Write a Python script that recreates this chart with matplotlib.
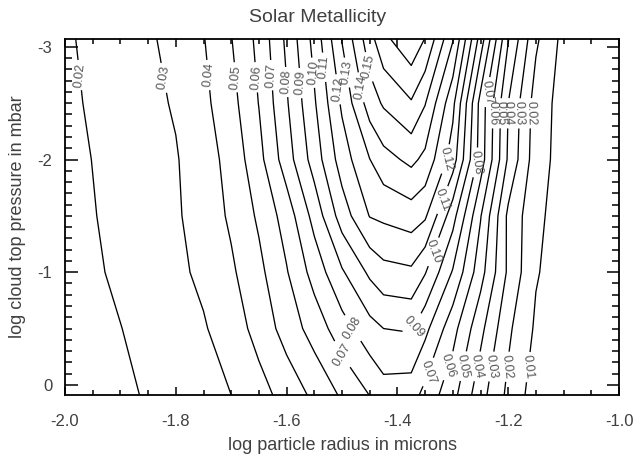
import numpy as np
import matplotlib
matplotlib.use('Agg')
import matplotlib.pyplot as plt
from matplotlib.ticker import MultipleLocator, FormatStrFormatter

plt.rcParams['font.family'] = ['Liberation Sans', 'DejaVu Sans']
plt.rcParams['axes.unicode_minus'] = False

# grid: log radius columns, log pressure rows
radius = [-2.0, -1.9, -1.8, -1.75, -1.7, -1.65, -1.6, -1.55, -1.5, -1.45,
          -1.425, -1.375, -1.35, -1.3, -1.25, -1.2, -1.15, -1.1, -1.0]
pressure = [0.09, -0.5, -1.0, -1.5, -2.0, -2.5, -3.07]

z_p009 = [0.0119, 0.0179, 0.0240, 0.0270, 0.0300, 0.0364, 0.0436, 0.0522, 0.0614, 0.0702,
          0.0755, 0.0745, 0.0667, 0.0533, 0.0337, 0.0177, 0.0050, 0.0030, 0.0020]
z_m050 = [0.0135, 0.0198, 0.0260, 0.0291, 0.0350, 0.0434, 0.0542, 0.0642, 0.0758, 0.0865,
          0.0900, 0.0910, 0.0828, 0.0636, 0.0429, 0.0219, 0.0085, 0.0040, 0.0020]
z_m100 = [0.0156, 0.0217, 0.0279, 0.0320, 0.0384, 0.0474, 0.0593, 0.0738, 0.0888, 0.1019,
          0.1067, 0.1082, 0.1007, 0.0791, 0.0539, 0.0282, 0.0108, 0.0050, 0.0020]
z_m150 = [0.0165, 0.0226, 0.0288, 0.0342, 0.0416, 0.0516, 0.0644, 0.0835, 0.1048, 0.1204,
          0.1220, 0.1250, 0.1215, 0.0939, 0.0607, 0.0278, 0.0125, 0.0050, 0.0020]
z_m200 = [0.0171, 0.0232, 0.0293, 0.0354, 0.0434, 0.0568, 0.0752, 0.0944, 0.1148, 0.1298,
          0.1364, 0.1424, 0.1375, 0.1150, 0.0754, 0.0385, 0.0144, 0.0060, 0.0030]
z_m250 = [0.0180, 0.0242, 0.0309, 0.0376, 0.0465, 0.0603, 0.0789, 0.0988, 0.1217, 0.1448,
          0.1513, 0.1590, 0.1505, 0.1227, 0.0764, 0.0400, 0.0156, 0.0060, 0.0030]
z_m307 = [0.0188, 0.0250, 0.0326, 0.0395, 0.0496, 0.0627, 0.0820, 0.1032, 0.1305, 0.1562,
          0.1674, 0.1777, 0.1696, 0.1408, 0.0956, 0.0506, 0.0217, 0.0070, 0.0040]

levels = [0.01, 0.02, 0.03, 0.04, 0.05, 0.06, 0.07, 0.08, 0.09,
          0.10, 0.11, 0.12, 0.13, 0.14, 0.15, 0.16, 0.17]

# where the contour labels sit (level, x, y)
lab_level = [0.02, 0.03, 0.04, 0.05, 0.06, 0.07, 0.08, 0.09, 0.10, 0.11, 0.12, 0.13, 0.14, 0.15,
             0.07, 0.06, 0.05, 0.04, 0.03, 0.02,
             0.12, 0.08, 0.11, 0.10, 0.09,
             0.08, 0.07, 0.07, 0.06, 0.05, 0.04, 0.03, 0.02, 0.01]
lab_x = [-1.973, -1.816, -1.741, -1.692, -1.655, -1.623, -1.594, -1.571, -1.553, -1.531, -1.512, -1.494, -1.467, -1.454,
         -1.227, -1.215, -1.204, -1.191, -1.181, -1.152,
         -1.308, -1.254, -1.318, -1.329, -1.368,
         -1.485, -1.508, -1.342, -1.302, -1.275, -1.252, -1.227, -1.200, -1.168]
lab_y = [-2.75, -2.73, -2.75, -2.73, -2.73, -2.75, -2.69, -2.68, -2.77, -2.82, -2.62, -2.77, -2.64, -2.82,
         -2.59, -2.41, -2.41, -2.41, -2.41, -2.41,
         -2.00, -1.97, -1.64, -1.17, -0.51,
         -0.49, -0.25, -0.11, -0.16, -0.16, -0.16, -0.16, -0.16, -0.16]

Z = np.array([z_p009, z_m050, z_m100, z_m150, z_m200, z_m250, z_m307])

txt = '#404040'
fig = plt.figure(figsize=(6.35, 4.58), dpi=100)
ax = fig.add_axes([65 / 635, 63 / 458, 554 / 635, 356 / 458])

# one contour set per level so each label lands on its own line
for lev in levels:
    cs = ax.contour(radius, pressure, Z, levels=[lev], colors='black', linewidths=0.95)
    pts = [(x, y) for l, x, y in zip(lab_level, lab_x, lab_y) if l == lev]
    if pts:
        ax.clabel(cs, manual=pts, inline=True, inline_spacing=3,
                  fmt='%.2f', fontsize=9, colors='#555555')

ax.set_xlim(-2.0, -1.0)
ax.set_ylim(0.09, -3.07)
ax.xaxis.set_major_locator(MultipleLocator(0.2))
ax.xaxis.set_minor_locator(MultipleLocator(0.05))
ax.xaxis.set_major_formatter(FormatStrFormatter('%.1f'))
ax.yaxis.set_major_locator(MultipleLocator(1))
ax.yaxis.set_minor_locator(MultipleLocator(0.1))
ax.yaxis.set_major_formatter(FormatStrFormatter('%d'))

ax.tick_params(axis='both', which='both', direction='in', top=True, right=True,
               width=1.1, colors='black', labelcolor=txt, labelsize=12)
ax.tick_params(axis='x', which='major', length=6, pad=14)
ax.tick_params(axis='x', which='minor', length=3.5)
ax.tick_params(axis='y', which='major', length=9, pad=9)
ax.tick_params(axis='y', which='minor', length=5)
for s in ax.spines.values():
    s.set_linewidth(1.3)

fig.text(0.5, 1 - 17 / 458, 'Solar Metallicity', ha='center', va='center', fontsize=14, color=txt)
fig.text(342 / 635, 1 - 445 / 458, 'log particle radius in microns', ha='center', va='center',
         fontsize=13, color=txt)
fig.text(18 / 635, 1 - 217 / 458, 'log cloud top pressure in mbar', ha='center', va='center',
         rotation=90, fontsize=13, color=txt)

fig.savefig('out.png', dpi=100)
